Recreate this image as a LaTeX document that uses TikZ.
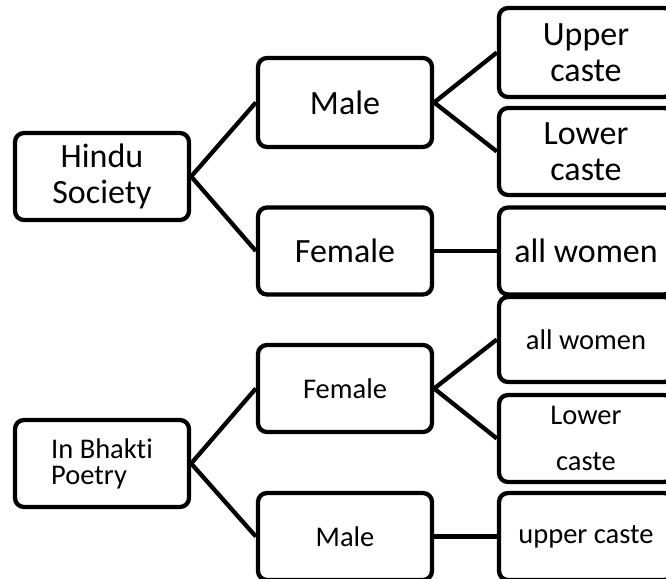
\documentclass[tikz,border=0pt]{standalone}
\usepackage{fontspec}
\setmainfont{Carlito}[Ligatures={NoCommon}]
\begin{document}
\begin{tikzpicture}[x=1pt,y=-1pt,
  box/.style={draw=black, line width=4.3pt, rounded corners=9pt, fill=white,
    minimum width=174pt, minimum height=87pt, inner sep=0pt, align=center},
  big/.style={font=\fontsize{34}{36}\selectfont},
  small/.style={font=\fontsize{28.5}{26}\selectfont},
  link/.style={line width=4.3pt}]
\useasboundingbox (0,0) rectangle (666,578);
\clip (0,0) rectangle (666,578);
% top tree
\node[box,big] (hs) at (102,176.5) {Hindu\\Society};
\node[box,big,minimum height=89pt] (m1) at (345,102.5) {Male};
\node[box,big] (f1) at (345,251) {Female};
\node[box,big,minimum height=89pt] (u1) at (586,52.5) {Upper\\caste};
\node[box,big] (l1) at (586,151.5) {Lower\\caste};
\node[box,big] (w1) at (586,251) {all women};
% bottom tree
\node[box,small,align=left] (bp) at (102,463.5) {In Bhakti\\Poetry};
\node[box,small] (f2) at (345,388.5) {Female};
\node[box,small] (m2) at (345,536.5) {Male};
\node[box,small,minimum height=85pt] (w2) at (586,339.5) {all women};
\node[box,small,font=\fontsize{28.5}{46}\selectfont] (l2) at (586,438.5) {Lower\\caste};
\node[box,small] (u2) at (586,536.5) {upper caste};
% connectors
\draw[link] (hs.east) -- (m1.west);
\draw[link] (hs.east) -- (f1.west);
\draw[link] (m1.east) -- (u1.west);
\draw[link] (m1.east) -- (l1.west);
\draw[link] (f1.east) -- (w1.west);
\draw[link] (bp.east) -- (f2.west);
\draw[link] (bp.east) -- (m2.west);
\draw[link] (f2.east) -- (w2.west);
\draw[link] (f2.east) -- (l2.west);
\draw[link] (m2.east) -- (u2.west);
\end{tikzpicture}
\end{document}
